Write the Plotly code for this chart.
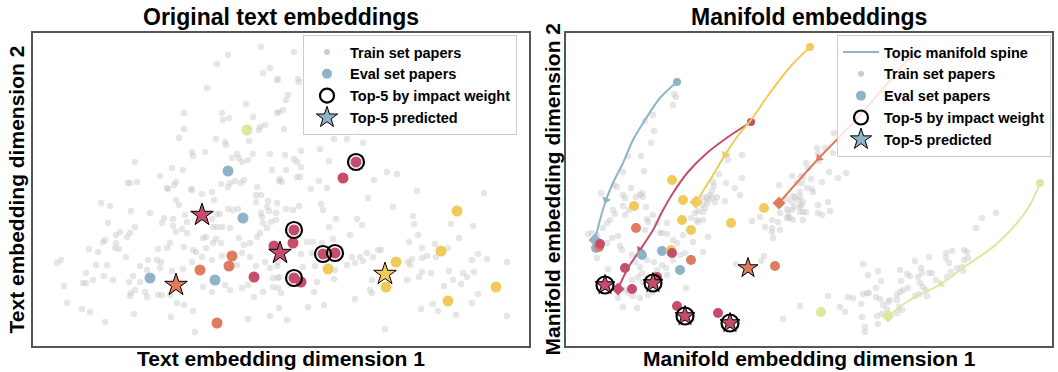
import numpy as np
import plotly.graph_objects as go

W, H = 1058, 372

# topic palette: 0 blue, 1 red, 2 yellow, 3 orange, 4 lime
TOPIC_COLORS = ["#8fb3c8", "#c44e6c", "#f0cb5b", "#dd7c5f", "#d9e99d"]
TRAIN_COLOR = "rgba(195,195,195,0.42)"
FRAME = "#555555"
FONT = "Liberation Sans, Arial, sans-serif"

# ---------------- original text embeddings ----------------
text_train_x = [
    -1.9, -5.2, -6.3, -1.0, -1.7, -0.3, -7.3, -3.4, -9.6, -5.8, -5.7, -5.1, -2.7, -0.3, -9.6, -2.0, -1.5, -2.1,
    -10.1, -6.4, -5.5, -5.4, -3.1, -8.8, -8.7, -7.5, -4.8, -4.3, -4.1, -3.8, -3.2, -2.7, -1.0, -14.5, -10.8, -9.7,
    -12.0, -0.8, -15.2, -15.0, -14.3, -11.3, -10.6, -10.4, -8.9, -5.9, -5.2, -5.0, -4.5, -3.9, -3.6, -2.3, -0.1,
    1.4, -0.2, 1.8, 1.9, 0.8, 0.6, 0.3, -0.1, 0.4, 5.4, 6.7, 7.8, 8.3, 4.0, 2.1, 0.5, 1.4, 1.7, 2.1, 4.9, 0.6,
    1.7, 2.0, 0.0, 3.9, 9.4, 10.7, 11.7, 3.1, 4.7,
    -11.2, -8.8, -7.8, -6.8, -6.6, -2.4, -1.9, -1.2, -2.4, -1.3, -0.3, -17.9, -17.0, -14.9, -13.0, -10.4, -10.1,
    -11.6, -11.8, -10.7, -9.3, -9.5, -6.8, -6.3, -6.0, -5.2, -4.7, -4.2, -1.9, -1.8, -1.1, -0.4, -17.2, -14.5,
    -15.0, -16.0, -16.4, -15.3, -17.5, -17.7, -16.4, -16.5, -16.1, -19.1, -18.2, -10.7, -10.4, -9.8, -9.3, -7.7,
    -7.4, -11.0, -11.3, -12.2, -9.6, -8.7, -8.4, -7.4, -6.7, -6.4, -5.9, -6.7, -6.3, -5.8, -5.0, -4.1, -3.0, -3.6,
    -2.3, -2.0, -1.3, -1.7, -22.3, -21.9, -19.4, -18.4, -17.3, -15.4, -13.2, -12.3, -11.9, -14.0, -13.3, -12.0,
    -10.8, -9.7, -8.8, -7.8, -6.8, -5.8, -4.3, -3.8, -3.0, -2.4, -1.5, -0.3, -0.2, -1.0, -18.7, -19.7, -19.4,
    -17.6, -16.7, -14.7, -15.1, -14.0, -21.6, -21.3, -19.8, -19.0, -17.5, -14.6, -14.9, -15.0, -14.5, -13.5,
    -13.3, -12.2, -11.8, -11.0, -10.3, -9.6, -8.7, -10.9, -8.5, -7.7, -6.8, -5.5, -5.0, -3.8, -3.2, -2.6, -1.7,
    -0.7, -0.2, -1.0, -3.2,
    0.2, 13.7, 20.4, 8.8, 4.1, 4.3, 1.9, 1.3, 0.6, -0.4, -0.9, 11.3, 13.3, 13.4, 7.7, 8.2, 5.6, 4.9, 7.0, 5.3,
    2.7, 3.3, 4.2, 2.1, 3.2, 3.5, 2.3, 5.5, 6.7, 7.5, 8.0, 8.7, 9.3, 9.8, 10.1, 7.2, 8.3, 12.9, 12.8, 13.0, 13.2,
    13.8, 14.2, 14.7, 14.2, 15.5, 15.6, 16.8, 17.9, 17.1, 19.3, 19.2, 19.8, 20.7, 22.7, -0.7, -0.1, -0.2, 0.1,
    3.7, 3.4, 5.4, 9.2, 9.0, 9.2, 12.7, 13.9, 15.1, 14.2, 16.9, 17.3, 18.3, 18.7, 19.4, 16.4, 18.1, 19.8, 15.3,
    14.1, 15.8, 17.6, 19.2, 22.7, 2.8, 4.4, 7.5, -0.1, 0.7, 10.5,
]
text_train_y = [
    14.3, 13.5, 12.6, 12.2, 11.7, 11.0, 10.2, 8.6, 7.7, 7.7, 7.0, 7.2, 7.3, 7.7, 6.1, 6.3, 6.5, 6.0,
    5.2, 5.1, 4.8, 4.5, 4.9, 3.8, 3.4, 3.8, 3.2, 3.6, 3.2, 2.8, 3.0, 3.6, 3.6, 2.8, 2.2, 2.0,
    1.4, 2.0, 0.7, 0.7, 0.8, 0.2, 0.5, 0.8, 0.1, 0.6, 0.3, 0.7, 0.9, 0.7, 1.0, 0.3, 0.9,
    13.8, 11.1, 11.1, 10.8, 9.5, 9.0, 8.0, 7.8, 6.1, 5.1, 5.1, 5.8, 4.7, 4.1, 3.9, 3.5, 3.1, 2.8, 2.3, 2.9, 2.0,
    1.3, 1.3, 1.1, 0.9, 1.0, 1.8, 1.6, 0.1, 0.2,
    0.1, 0.0, -0.4, -0.2, -1.0, -0.5, -0.5, -1.1, -1.2, -1.7, -1.3, -1.3, -1.6, -2.1, -2.3, -1.0, -1.5,
    -2.8, -3.3, -2.9, -3.2, -2.5, -2.9, -2.4, -2.4, -1.9, -2.0, -1.9, -2.3, -2.7, -2.1, -3.0, -3.3, -3.7,
    -4.3, -4.2, -4.5, -4.7, -5.0, -5.2, -5.3, -5.8, -5.9, -5.9, -6.2, -3.6, -4.2, -3.9, -4.3, -4.8,
    -4.7, -5.3, -5.8, -5.9, -5.7, -6.0, -6.2, -5.8, -5.3, -4.9, -5.3, -3.7, -3.7, -3.7, -3.8, -4.8, -5.3, -5.5,
    -4.7, -4.3, -3.8, -3.3, -7.3, -7.0, -8.3, -7.5, -7.5, -6.7, -7.0, -7.0, -7.2, -7.6, -8.0, -7.8,
    -8.1, -7.9, -7.2, -6.7, -7.0, -6.6, -7.5, -6.3, -6.7, -7.6, -7.2, -7.6, -7.2, -7.8, -9.0, -9.3, -9.3,
    -8.6, -9.0, -8.6, -9.2, -9.2, -9.6, -11.3, -11.9, -12.2, -13.2, -12.4, -10.3, -10.6, -10.0, -10.2,
    -10.7, -10.5, -10.5, -10.5, -11.3, -11.5, -12.1, -12.7, -14.2, -9.7, -10.2, -9.5, -10.0, -9.8, -9.5, -10.7, -10.2,
    -9.7, -8.8, -12.6, -12.9,
    0.8, -0.1, -0.3, -0.8, -1.4, -2.0, -1.6, -2.0, -1.9, -2.3, -3.2, -1.7, -2.6, -3.4, -2.9, -3.5, -2.9, -3.7, -4.5, -4.9,
    -5.2, -5.2, -5.3, -6.4, -6.3, -7.6, -7.7, -8.0, -7.5, -7.3, -6.7, -6.3, -6.7, -6.0, -6.0, -6.7, -7.1, -5.2, -7.2, -7.5, -6.9,
    -4.5, -5.8, -6.6, -6.8, -5.4, -6.7, -5.8, -4.8, -3.4, -3.6, -7.0, -6.4, -6.9, -7.2, -8.8, -8.7, -9.8, -10.3,
    -9.2, -10.2, -8.9, -9.0, -10.0, -10.3, -9.0, -8.7, -8.3, -8.2, -8.1, -9.0, -8.3, -8.7, -8.2, -9.6, -9.4, -10.4, -11.4,
    -11.9, -12.1, -12.5, -11.3, -12.6, -11.7, -11.5, -10.9, -11.8, -13.0, -13.9,
]

text_eval_x = [-3.3, -5.2, 7.6, 6.3, -7.8, -3.7, -0.6, 0.0, -4.8, -8.0, -5.1, -2.6, -13.0, -6.5, -10.4, -6.3,
               1.4, 1.3, 4.3, 5.5, 4.8, 1.4, 2.1, 17.7, 16.1, 11.6, 10.5, 10.6, 21.6, 16.8]
text_eval_y = [6.0, 1.9, 2.8, 1.2, -2.5, -2.8, -5.6, -6.3, -6.6, -8.0, -7.6, -8.7, -8.8, -9.0, -9.5, -13.3,
               -4.0, -5.3, -6.4, -6.3, -7.9, -8.8, -9.2, -2.1, -6.1, -7.2, -8.4, -9.7, -9.7, -11.1]
text_eval_topic = [4, 0, 1, 1, 1, 0, 1, 1, 3, 3, 3, 1, 0, 0, 3, 3,
                   1, 1, 1, 1, 2, 1, 1, 2, 2, 2, 2, 2, 2, 2]
text_top_impact = [2, 16, 18, 19, 21]
text_top_pred = [4, 7, 14, 26]

# ---------------- manifold embeddings ----------------
mani_train_x = [
    -13.6, -13.4, -13.7, -15.7, -16.5, -15.6, -15.9, -18.2, -16.9, -18.7, -16.6, -19.6, -19.3, -20.9, -17.9, -16.8,
    -16.7, -17.4, -18.5, -8.3, -8.2, -6.8, -9.1, -8.4, -7.5, -6.8, -9.7, -9.6, -9.8, -10.0, -10.3, -9.3, -3.1, -1.8,
    -0.9, -1.3, -0.4, -0.2, -1.7, -1.0, -0.3,
    -8.5, -9.8, -9.5, -10.3, -10.5, -10.7, -11.2, -11.5, -10.2, -10.7, -10.8, -11.9, -11.3, -10.7, -10.2, -14.3,
    -15.0, -14.3, -15.7, -16.3, -12.7, -5.8, -5.0, -4.5, -3.8, -3.2, -3.0, -2.3, -1.8, -1.2, -0.9, -1.6, -0.7, -0.7,
    -1.7, -2.2, -3.0, -3.8, 0.1, 1.2, 1.9, 2.0, 1.2, 0.8, -1.0, 0.3, -2.3, 2.4, 2.3, 1.5,
    0.8, 2.8, 3.6, -1.5, -1.0, -0.4, 0.8, 1.8, -2.2, -2.0, 0.7, 0.9, -0.7, -0.8, 0.2, -0.7,
    -1.0, 1.8, 3.0, 3.5, 3.8, 4.3, 5.1, 5.3, 5.7, 5.9, 5.3, 5.8, 6.8, 7.1, 6.6, 6.6, 7.0, 7.3, 7.7, 6.7, 5.2, 5.5,
    5.5, 6.8, 8.0, 8.7, 9.0, 9.3, 9.8, 9.0, 9.1, 9.7, 10.0, 10.5, 11.1, 11.2, 10.8, 11.0, 11.3, 11.6, 11.7, 10.5,
    10.9, 11.9, 11.9, 12.2, 12.6, 13.7, 13.6, 14.2, 13.6, 13.9, 14.1, 14.7, 15.2, 15.4, 15.7, 15.4, 15.8, 15.3,
    16.6, 17.2, 18.6, 9.2, 8.9, 8.7, 7.8, 8.7, 7.2,
    -19.7, -19.5, -20.0, -20.7, -21.8, -22.2, -21.3, -20.3, -18.7, -17.0, -18.7, -18.5, -18.1, -16.4, -16.2, -15.3,
    -16.5, -14.8, -13.7, -19.8, -19.2, -19.0, -20.3, -21.3, -20.2, -18.8, -17.8, -17.5, -17.0, -16.3, -16.8, -17.2,
    -16.3, -16.7, -17.8, -18.5, -18.2, -17.7, -17.0, -19.2, -18.7, -17.3, -16.2, -15.7, -15.3, -14.4, -13.7, -13.0,
    -15.6, -14.8, -14.3, -13.3, -12.5, -11.7, -10.7, -12.4, -11.2, -7.0, -7.4, -4.9, -4.6, -3.8, -3.7, -2.3, -1.8,
    -1.0, -2.7,
]
mani_train_y = [
    9.6, 9.3, 8.5, 7.5, 6.9, 5.9, 4.7, 3.4, 3.4, 1.8, 1.9, 0.5, 0.3, -0.3, 0.2, -0.3,
    -0.7, -0.7, -0.8, 3.6, 3.0, 3.5, 1.6, 0.7, 0.2, 1.2, 0.8, 0.4, -0.1, -0.5, -0.7, -0.7, 0.5, 1.4,
    1.4, 0.7, 2.7, 2.2, -0.6, -0.7, 0.2,
    -1.1, -0.8, -1.2, -1.3, -1.8, -2.2, -2.1, -2.3, -1.0, -0.8, -1.5, -2.8, -3.0, -3.0, -4.7, -3.3,
    -4.3, -4.4, -2.5, -2.9, -4.5, -3.1, -2.7, -3.7, -4.2, -3.2, -2.3, -1.9, -1.2, -1.0, -1.5, -1.7, -2.2, -3.0,
    -3.0, -2.7, -4.0, -3.0, 1.1, 0.8, 1.8, -2.1, -2.5, -1.5, -0.2, -0.2, -0.9, 5.7, 3.7, 4.2,
    3.6, 1.2, 1.7, -0.7, -1.7, -2.2, -2.3, -1.2, -2.2, -2.8, 4.2, 2.9, 1.3, 0.7, 0.1, -1.2,
    -11.6, -10.6, -11.7, -12.2, -10.7, -10.8, -11.4, -10.4, -10.3, -10.3, -7.4, -8.5, -8.1, -9.1, -9.8, -10.7, -10.9,
    -11.5, -11.9, -12.6, -12.7, -13.7,
    -14.2, -13.4, -11.0, -11.0, -10.2, -10.0, -9.8, -8.0, -9.1, -8.4, -8.6, -7.1, -7.8, -8.3, -8.7, -9.3, -9.7, -10.0,
    -10.6, -10.6, -10.4, -6.7, -8.3, -8.3, -9.0, -8.7, -6.3, -6.1, -6.8, -7.3, -8.2, -7.8, -7.7, -6.0, -6.2, -7.0,
    -6.8, -8.1, -3.8, -2.8, -2.3, -12.0, -11.7, -12.3, -11.2, -10.5, -12.4,
    -2.0, -2.4, -3.0, -3.8, -4.3, -4.4, -4.5, -3.3, -0.5, -0.5, -1.6, -2.5, -2.0, -1.7, -3.2, -3.3,
    -4.0, -4.3, -5.0, -4.8, -4.6, -5.6, -5.3, -6.8, -7.9, -6.0, -6.5, -7.2, -7.7, -7.0, -8.3, -8.7,
    -8.8, -9.2, -9.0, -10.0, -10.3, -10.6, -10.8, -10.8, -11.7, -11.8, -10.5, -10.2, -8.0, -7.8, -7.0, -6.5,
    -7.2, -7.5, -8.5, -5.3, -6.3, -5.2, -6.2, -9.8, -3.2, -0.5, -7.4, -7.1, -6.6, -3.8, -4.8, -2.8, -2.0,
    -2.2, -12.9,
]

mani_eval_x = [-13.8, -17.6, -12.7, -12.8, -11.9, -7.9, -4.6, -17.4, -21.4, -21.1, -21.0, -16.8, -14.8, -13.9,
               -13.8, -11.9, -13.0, -18.5, -17.8, -15.3, -20.5, -15.7, -13.3, -12.5, -9.2, -8.0, -6.2, -3.5, 1.1]
mani_eval_y = [1.0, -1.6, -1.0, -3.0, -4.0, -3.3, -1.8, -3.8, -5.8, -5.7, -5.4, -6.5, -6.1, -6.0,
               -6.3, -7.0, -8.0, -7.8, -9.9, -8.7, -9.5, -9.3, -11.6, -12.6, -12.3, -13.3, -7.8, -7.6, -12.2]
mani_eval_topic = [2, 2, 2, 2, 2, 2, 2, 3, 0, 3, 1, 0, 0, 2,
                   1, 3, 0, 1, 1, 1, 1, 1, 1, 1, 1, 1, 3, 3, 4]
mani_top_impact = [20, 21, 23, 25]
mani_top_pred = [20, 21, 23, 25, 26]

# topic manifold spines (start -> end)
spine_blue_x = [-13.3, -15.0, -16.5, -17.7, -18.7, -19.7, -20.4, -21.0, -21.5]
spine_blue_y = [10.8, 9.2, 7.0, 5.0, 2.7, 0.7, -1.0, -3.0, -5.0]
spine_red_x = [-5.9, -8.2, -10.3, -12.2, -13.7, -14.8, -15.7, -17.0, -18.2, -19.2]
spine_red_y = [6.8, 5.3, 3.7, 1.8, -0.3, -2.2, -4.0, -6.0, -7.8, -9.9]
spine_yellow_x = [0.0, -2.0, -4.3, -5.9, -7.3, -8.5, -10.0, -11.4]
spine_yellow_y = [14.3, 12.3, 9.3, 7.0, 5.3, 3.5, 1.0, -1.2]
spine_orange_x = [10.1, 7.0, 4.0, 0.9, -3.1]
spine_orange_y = [13.4, 9.8, 6.4, 3.2, -1.3]
spine_lime_x = [23.0, 22.0, 20.7, 18.3, 15.7, 13.1, 10.0, 7.8]
spine_lime_y = [0.7, -1.5, -3.3, -5.7, -7.5, -9.4, -11.0, -12.6]
spine_arrow_at = [6, 7, 5, 3, 5]

spines = [
    (spine_blue_x, spine_blue_y, 0),
    (spine_red_x, spine_red_y, 1),
    (spine_yellow_x, spine_yellow_y, 2),
    (spine_orange_x, spine_orange_y, 3),
    (spine_lime_x, spine_lime_y, 4),
]

fig = go.Figure()


def px_x(v):
    return v / W


def px_y(v):
    return 1 - v / H


left_dom_x = [px_x(33), px_x(529)]
right_dom_x = [px_x(566), px_x(1052)]
dom_y = [px_y(346), px_y(33)]

axis_style = dict(showgrid=False, zeroline=False, showticklabels=False, ticks="",
                  showline=True, mirror=True, linecolor=FRAME, linewidth=1.5)

fig.update_layout(
    xaxis=dict(domain=left_dom_x, range=[-24.7, 24.9], anchor="y", **axis_style),
    yaxis=dict(domain=dom_y, range=[-15.6, 15.7], anchor="x", **axis_style),
    xaxis2=dict(domain=right_dom_x, range=[-24.4, 24.2], anchor="y2", **axis_style),
    yaxis2=dict(domain=dom_y, range=[-15.6, 15.7], anchor="x2", **axis_style),
)


def colors_of(topics):
    return [TOPIC_COLORS[t] for t in topics]


# ---- left panel ----
fig.add_trace(go.Scatter(x=text_train_x, y=text_train_y, mode="markers", xaxis="x", yaxis="y",
                         marker=dict(size=6.5, color=TRAIN_COLOR), showlegend=False, hoverinfo="skip"))
plain = [i for i in range(len(text_eval_x)) if i not in text_top_pred]
fig.add_trace(go.Scatter(x=[text_eval_x[i] for i in plain], y=[text_eval_y[i] for i in plain],
                         mode="markers", xaxis="x", yaxis="y",
                         marker=dict(size=11, color=colors_of([text_eval_topic[i] for i in plain])),
                         showlegend=False))
fig.add_trace(go.Scatter(x=[text_eval_x[i] for i in text_top_pred], y=[text_eval_y[i] for i in text_top_pred],
                         mode="markers", xaxis="x", yaxis="y",
                         marker=dict(symbol="star", size=17,
                                     color=colors_of([text_eval_topic[i] for i in text_top_pred]),
                                     line=dict(color="black", width=1)),
                         showlegend=False))
fig.add_trace(go.Scatter(x=[text_eval_x[i] for i in text_top_impact], y=[text_eval_y[i] for i in text_top_impact],
                         mode="markers", xaxis="x", yaxis="y",
                         marker=dict(symbol="circle-open", size=16, color="black", line=dict(width=2.2)),
                         showlegend=False))

# ---- right panel ----
fig.add_trace(go.Scatter(x=mani_train_x, y=mani_train_y, mode="markers", xaxis="x2", yaxis="y2",
                         marker=dict(size=6.5, color=TRAIN_COLOR), showlegend=False, hoverinfo="skip"))
for sx, sy, t in spines:
    c = TOPIC_COLORS[t]
    fig.add_trace(go.Scatter(x=sx, y=sy, mode="lines", xaxis="x2", yaxis="y2",
                             line=dict(color=c, width=2, shape="spline", smoothing=1.0),
                             showlegend=False, hoverinfo="skip"))
    fig.add_trace(go.Scatter(x=[sx[0]], y=[sy[0]], mode="markers", xaxis="x2", yaxis="y2",
                             marker=dict(size=8, color=c), showlegend=False, hoverinfo="skip"))
    fig.add_trace(go.Scatter(x=[sx[-1]], y=[sy[-1]], mode="markers", xaxis="x2", yaxis="y2",
                             marker=dict(symbol="diamond", size=10, color=c), showlegend=False, hoverinfo="skip"))
for (sx, sy, t), k in zip(spines, spine_arrow_at):
    dx = sx[k + 1] - sx[k - 1]
    dy = sy[k + 1] - sy[k - 1]
    ang = float(np.degrees(np.arctan2(dx, dy)))
    fig.add_trace(go.Scatter(x=[sx[k]], y=[sy[k]], mode="markers", xaxis="x2", yaxis="y2",
                             marker=dict(symbol="triangle-up", size=8, angle=ang, color=TOPIC_COLORS[t]),
                             showlegend=False, hoverinfo="skip"))

plain = [i for i in range(len(mani_eval_x)) if i not in mani_top_pred]
fig.add_trace(go.Scatter(x=[mani_eval_x[i] for i in plain], y=[mani_eval_y[i] for i in plain],
                         mode="markers", xaxis="x2", yaxis="y2",
                         marker=dict(size=10, color=colors_of([mani_eval_topic[i] for i in plain])),
                         showlegend=False))
fig.add_trace(go.Scatter(x=[mani_eval_x[i] for i in mani_top_pred], y=[mani_eval_y[i] for i in mani_top_pred],
                         mode="markers", xaxis="x2", yaxis="y2",
                         marker=dict(symbol="star", size=15,
                                     color=colors_of([mani_eval_topic[i] for i in mani_top_pred]),
                                     line=dict(color="black", width=1)),
                         showlegend=False))
fig.add_trace(go.Scatter(x=[mani_eval_x[i] for i in mani_top_impact], y=[mani_eval_y[i] for i in mani_top_impact],
                         mode="markers", xaxis="x2", yaxis="y2",
                         marker=dict(symbol="circle-open", size=17, color="black", line=dict(width=2.2)),
                         showlegend=False))

# ---- legend entries ----
def legend_entry(name, legend, **kw):
    fig.add_trace(go.Scatter(x=[None], y=[None], name=name, legend=legend, xaxis="x", yaxis="y", **kw))


for lg in ["legend", "legend2"]:
    if lg == "legend2":
        legend_entry("Topic manifold spine", lg, mode="lines", line=dict(color=TOPIC_COLORS[0], width=2))
    legend_entry("Train set papers", lg, mode="markers", marker=dict(size=6, color="#cccccc"))
    legend_entry("Eval set papers", lg, mode="markers", marker=dict(size=10, color=TOPIC_COLORS[0]))
    legend_entry("Top-5 by impact weight", lg, mode="markers",
                 marker=dict(symbol="circle-open", size=14, color="black", line=dict(width=2.2)))
    legend_entry("Top-5 predicted", lg, mode="markers",
                 marker=dict(symbol="star", size=16, color=TOPIC_COLORS[0], line=dict(color="black", width=1)))

legend_style = dict(bgcolor="rgba(255,255,255,0.8)", bordercolor="#cccccc", borderwidth=1,
                    font=dict(family=FONT, size=14.5, color="black", weight="bold"),
                    xanchor="left", yanchor="top", itemsizing="trace", itemwidth=36, tracegroupgap=0)

fig.update_layout(
    width=W, height=H, margin=dict(l=0, r=0, t=0, b=0),
    paper_bgcolor="white", plot_bgcolor="white",
    font=dict(family=FONT, color="black"),
    legend=dict(x=px_x(303), y=px_y(35), **legend_style),
    legend2=dict(x=px_x(837), y=px_y(35), **legend_style),
)

title_font = dict(family=FONT, size=23, color="black", weight="bold")
label_font = dict(family=FONT, size=21, color="black", weight="bold")
annotations = [
    dict(text="Original text embeddings", x=px_x(281), y=px_y(17), font=title_font),
    dict(text="Manifold embeddings", x=px_x(809), y=px_y(17), font=title_font),
    dict(text="Text embedding dimension 1", x=px_x(281), y=px_y(358), font=label_font),
    dict(text="Manifold embedding dimension 1", x=px_x(809), y=px_y(358), font=label_font),
    dict(text="Text embedding dimension 2", x=px_x(16), y=px_y(189.5), font=label_font, textangle=-90),
    dict(text="Manifold embedding dimension 2", x=px_x(552), y=px_y(189.5), font=label_font, textangle=-90),
]
for a in annotations:
    fig.add_annotation(xref="paper", yref="paper", showarrow=False, xanchor="center", yanchor="middle", **a)

fig.write_html("out.html")
